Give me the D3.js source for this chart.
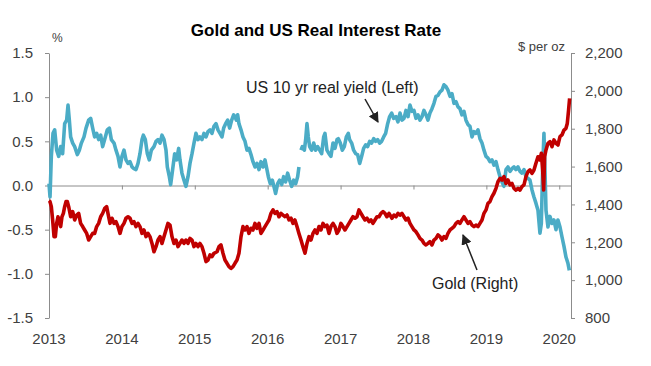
<!DOCTYPE html>
<html><head><meta charset="utf-8">
<script src="https://cdn.jsdelivr.net/npm/d3@7"></script>
<style>
body{margin:0;background:#fff}
text{font-family:"Liberation Sans",Arial,sans-serif}
</style>
</head><body>
<svg id="c" width="651" height="366"></svg>
<script>
// ---- data ----
const yearTicks = [2013,2014,2015,2016,2017,2018,2019,2020];
const yieldTicks = [-1.5,-1.0,-0.5,0.0,0.5,1.0,1.5];
const goldTicks = [800,1000,1200,1400,1600,1800,2000,2200];

// US 10 yr real yield, % (decimal year, value); null = data gap
const realYield = [[2013.000,0.02],[2013.014,-0.13],[2013.023,0.10],[2013.032,0.33],[2013.055,0.59],[2013.078,0.63],[2013.105,0.40],[2013.133,0.33],[2013.160,0.44],[2013.187,0.36],[2013.215,0.70],[2013.242,0.74],[2013.261,0.91],[2013.279,0.74],[2013.297,0.55],[2013.325,0.48],[2013.352,0.44],[2013.389,0.35],[2013.416,0.40],[2013.444,0.48],[2013.480,0.55],[2013.508,0.65],[2013.544,0.74],[2013.572,0.76],[2013.599,0.65],[2013.626,0.55],[2013.654,0.59],[2013.681,0.52],[2013.709,0.57],[2013.736,0.44],[2013.773,0.55],[2013.800,0.63],[2013.828,0.65],[2013.855,0.52],[2013.892,0.48],[2013.919,0.40],[2013.947,0.33],[2013.974,0.21],[2014.001,0.33],[2014.029,0.40],[2014.056,0.29],[2014.084,0.25],[2014.111,0.27],[2014.139,0.21],[2014.166,0.19],[2014.193,0.18],[2014.221,0.25],[2014.248,0.36],[2014.276,0.52],[2014.294,0.57],[2014.321,0.52],[2014.349,0.36],[2014.376,0.29],[2014.404,0.40],[2014.440,0.44],[2014.468,0.50],[2014.495,0.52],[2014.523,0.48],[2014.550,0.57],[2014.578,0.52],[2014.605,0.40],[2014.623,0.21],[2014.651,0.10],[2014.669,0.01],[2014.696,0.18],[2014.724,0.36],[2014.751,0.29],[2014.779,0.42],[2014.797,0.29],[2014.824,0.14],[2014.852,0.06],[2014.879,-0.01],[2014.907,0.10],[2014.934,0.25],[2014.962,0.36],[2014.989,0.48],[2015.016,0.59],[2015.044,0.52],[2015.071,0.55],[2015.099,0.52],[2015.126,0.59],[2015.154,0.55],[2015.181,0.61],[2015.209,0.63],[2015.236,0.59],[2015.263,0.67],[2015.291,0.70],[2015.318,0.63],[2015.346,0.59],[2015.373,0.55],
[2015.396,0.65],[2015.423,0.70],[2015.451,0.74],[2015.478,0.65],[2015.506,0.74],[2015.533,0.80],[2015.551,0.78],[2015.570,0.74],[2015.588,0.80],[2015.606,0.70],[2015.634,0.63],[2015.661,0.55],[2015.689,0.50],[2015.716,0.40],[2015.743,0.42],[2015.771,0.35],[2015.798,0.27],[2015.826,0.21],[2015.853,0.25],[2015.881,0.18],[2015.908,0.27],[2015.936,0.21],[2015.963,0.29],[2015.990,0.18],[2016.009,0.10],[2016.036,0.02],[2016.064,0.06],[2016.091,-0.03],[2016.109,-0.09],[2016.137,0.02],[2016.164,0.06],[2016.192,0.01],[2016.219,0.10],[2016.246,0.04],[2016.274,0.14],[2016.301,0.06],[2016.329,-0.01],[2016.356,0.06],[2016.384,0.02],[2016.411,0.10],[2016.429,0.21],[2016.443,null],[2016.457,0.40],[2016.475,0.44],[2016.503,0.40],[2016.521,0.52],[2016.539,0.70],[2016.557,0.55],[2016.576,0.44],[2016.603,0.40],[2016.631,0.48],[2016.658,0.40],[2016.685,0.44],[2016.713,0.40],[2016.740,0.36],[2016.768,0.55],[2016.786,0.59],[2016.813,0.40],[2016.841,0.36],[2016.868,0.33],[2016.896,0.48],[2016.923,0.42],[2016.951,0.52],[2016.969,0.53],[2016.996,0.48],[2017.024,0.40],[2017.051,0.44],[2017.079,0.55],[2017.106,0.59],[2017.124,0.52],[2017.152,0.48],[2017.179,0.40],[2017.207,0.36],[2017.234,0.35],[2017.262,0.25],[2017.289,0.33],[2017.316,0.42],[2017.344,0.46],[2017.371,0.44],[2017.399,0.50],[2017.426,0.48],[2017.454,0.53],[2017.481,0.50],[2017.509,0.52],[2017.536,0.48],[2017.563,0.50],[2017.591,0.55],[2017.618,0.59],[2017.646,0.70],[2017.673,0.78],[2017.701,0.82],[2017.728,0.76],
[2017.760,0.78],[2017.787,0.72],[2017.815,0.82],[2017.842,0.74],[2017.870,0.76],[2017.897,0.85],[2017.925,0.78],[2017.952,0.91],[2017.979,0.84],[2018.007,0.85],[2018.034,0.76],[2018.062,0.80],[2018.089,0.74],[2018.117,0.78],[2018.144,0.85],[2018.172,0.80],[2018.199,0.74],[2018.226,0.82],[2018.254,0.87],[2018.281,0.93],[2018.309,1.01],[2018.336,1.02],[2018.364,1.06],[2018.391,1.08],[2018.418,1.14],[2018.446,1.12],[2018.473,1.08],[2018.501,1.01],[2018.528,1.04],[2018.556,0.93],[2018.583,0.95],[2018.611,0.89],[2018.638,0.87],[2018.665,0.80],[2018.693,0.84],[2018.720,0.74],[2018.748,0.69],[2018.775,0.67],[2018.803,0.55],[2018.830,0.61],[2018.857,0.59],[2018.885,0.63],[2018.912,0.53],[2018.940,0.48],[2018.967,0.40],[2018.995,0.33],[2019.022,0.31],[2019.049,0.27],[2019.077,0.29],[2019.104,0.23],[2019.132,0.27],[2019.159,0.18],[2019.187,0.10],[2019.214,0.04],[2019.241,-0.01],[2019.269,0.18],[2019.296,0.21],[2019.324,0.16],[2019.351,0.19],[2019.379,0.21],[2019.406,0.18],[2019.434,0.21],[2019.461,0.16],[2019.488,0.14],[2019.516,0.18],[2019.543,0.10],[2019.571,0.08],[2019.598,0.06],[2019.626,-0.05],[2019.653,-0.13],[2019.680,-0.20],[2019.708,-0.28],[2019.735,-0.54],[2019.754,-0.43],[2019.772,0.18],[2019.790,0.59],[2019.804,0.18],[2019.818,-0.28],[2019.845,-0.47],[2019.873,-0.35],[2019.900,-0.43],[2019.927,-0.39],[2019.955,-0.50],[2019.982,-0.39],[2020.010,-0.47],[2020.037,-0.58],[2020.065,-0.69],[2020.092,-0.81],[2020.119,-0.88],[2020.138,-0.96]];

// Gold, $ per oz (decimal year, value)
const gold = [[2013.000,1420],[2013.014,1415],[2013.032,1388],[2013.050,1318],[2013.069,1230],[2013.087,1230],[2013.105,1300],[2013.123,1335],[2013.142,1309],[2013.160,1283],[2013.178,1335],[2013.197,1353],[2013.215,1388],[2013.233,1415],[2013.251,1415],[2013.270,1388],[2013.297,1335],[2013.325,1362],[2013.352,1318],[2013.380,1344],[2013.407,1353],[2013.434,1300],[2013.462,1283],[2013.489,1265],[2013.517,1247],[2013.544,1212],[2013.572,1230],[2013.599,1247],[2013.626,1247],[2013.654,1283],[2013.681,1300],[2013.709,1335],[2013.736,1353],[2013.764,1379],[2013.791,1388],[2013.809,1353],[2013.837,1300],[2013.864,1327],[2013.892,1300],[2013.919,1309],[2013.947,1283],[2013.974,1247],[2014.001,1283],[2014.029,1300],[2014.056,1327],[2014.084,1335],[2014.111,1327],[2014.139,1300],[2014.166,1309],[2014.193,1283],[2014.221,1300],[2014.248,1283],[2014.276,1247],[2014.303,1265],[2014.331,1230],[2014.358,1247],[2014.385,1230],[2014.413,1194],[2014.440,1150],[2014.468,1177],[2014.495,1212],[2014.523,1230],[2014.550,1194],[2014.578,1230],[2014.605,1265],[2014.632,1300],[2014.660,1291],[2014.687,1230],[2014.715,1194],[2014.742,1212],[2014.770,1177],[2014.797,1194],[2014.824,1212],[2014.852,1194],[2014.879,1212],[2014.907,1194],[2014.934,1221],[2014.962,1212],[2014.989,1177],[2015.016,1194],[2015.044,1177],[2015.071,1194],[2015.099,1177],[2015.126,1142],[2015.154,1098],[2015.181,1106],[2015.209,1133],[2015.236,1124],[2015.263,1142],
[2015.305,1150],[2015.332,1177],[2015.359,1186],[2015.387,1142],[2015.414,1106],[2015.442,1089],[2015.469,1071],[2015.497,1062],[2015.524,1071],[2015.551,1089],[2015.579,1106],[2015.606,1142],[2015.634,1230],[2015.661,1283],[2015.689,1265],[2015.716,1283],[2015.743,1247],[2015.771,1274],[2015.798,1265],[2015.826,1300],[2015.853,1274],[2015.881,1300],[2015.908,1247],[2015.936,1265],[2015.963,1283],[2015.990,1300],[2016.018,1318],[2016.045,1353],[2016.073,1371],[2016.100,1353],[2016.128,1362],[2016.155,1335],[2016.182,1353],[2016.210,1344],[2016.237,1335],[2016.265,1344],[2016.292,1318],[2016.320,1327],[2016.347,1300],[2016.374,1318],[2016.402,1283],[2016.429,1247],[2016.457,1212],[2016.484,1177],[2016.512,1142],[2016.539,1194],[2016.567,1230],[2016.594,1212],[2016.621,1247],[2016.649,1265],[2016.676,1247],[2016.704,1283],[2016.731,1265],[2016.759,1300],[2016.786,1283],[2016.813,1291],[2016.841,1247],[2016.868,1283],[2016.896,1300],[2016.923,1283],[2016.951,1247],[2016.978,1265],[2017.005,1300],[2017.033,1283],[2017.060,1265],[2017.088,1283],[2017.115,1300],[2017.143,1318],[2017.170,1335],[2017.198,1327],[2017.225,1335],[2017.252,1371],[2017.280,1353],[2017.307,1335],[2017.335,1318],[2017.362,1327],[2017.390,1309],[2017.417,1318],[2017.444,1300],[2017.472,1318],[2017.499,1335],[2017.527,1335],[2017.554,1353],[2017.582,1362],[2017.609,1353],[2017.636,1335],[2017.664,1353],
[2017.705,1327],[2017.733,1344],[2017.760,1335],[2017.787,1353],[2017.815,1344],[2017.842,1353],[2017.870,1335],[2017.897,1318],[2017.925,1327],[2017.952,1300],[2017.979,1283],[2018.007,1265],[2018.034,1256],[2018.062,1239],[2018.089,1221],[2018.117,1212],[2018.144,1194],[2018.172,1186],[2018.199,1194],[2018.226,1203],[2018.254,1186],[2018.281,1212],[2018.309,1221],[2018.336,1239],[2018.364,1230],[2018.391,1212],[2018.418,1230],[2018.446,1221],[2018.473,1247],[2018.501,1265],[2018.528,1274],[2018.556,1283],[2018.583,1300],[2018.611,1309],[2018.638,1300],[2018.665,1318],[2018.693,1335],[2018.720,1318],[2018.748,1300],[2018.775,1309],[2018.803,1291],[2018.830,1283],[2018.857,1291],[2018.885,1283],[2018.912,1300],[2018.940,1318],[2018.967,1353],[2018.995,1371],[2019.022,1406],[2019.049,1415],[2019.077,1441],[2019.104,1459],[2019.132,1485],[2019.159,1520],[2019.187,1538],[2019.214,1529],[2019.241,1547],[2019.269,1511],[2019.296,1529],[2019.324,1503],[2019.351,1511],[2019.379,1485],[2019.406,1476],[2019.434,1485],[2019.461,1476],[2019.488,1494],[2019.516,1503],[2019.543,1547],[2019.571,1573],[2019.598,1582],[2019.626,1564],[2019.653,1582],[2019.680,1617],[2019.708,1652],[2019.735,1635],[2019.754,1670],[2019.772,1582],[2019.786,1476],[2019.799,1652],[2019.818,1688],[2019.845,1723],[2019.873,1732],[2019.900,1705],[2019.927,1741],[2019.955,1723],[2019.982,1714],[2020.010,1758],[2020.037,1767],[2020.065,1793],[2020.092,1802],[2020.110,1828],[2020.128,1899],[2020.142,1960]];

const titleText = "Gold and US Real Interest Rate";
const yieldLabel = "US 10 yr real yield (Left)";
const goldLabel = "Gold (Right)";

// ---- chart ----
const svg = d3.select("#c");
const axisColor = "#8c8c8c", textColor = "#404040";
const x = d3.scaleLinear().domain([2013, 2020.161]).range([49, 571]);
const yL = d3.scaleLinear().domain([-1.5, 1.5]).range([318, 53]);
const yR = d3.scaleLinear().domain([800, 2200]).range([318, 53]);

function styleAxis(g){
  g.select(".domain").attr("stroke", axisColor);
  g.selectAll(".tick line").attr("stroke", axisColor);
  g.selectAll(".tick text").attr("fill", textColor).style("font-size","15px")
   .style("font-family",'"Liberation Sans",Arial,sans-serif');
}

svg.append("g").attr("transform","translate(49,0)")
  .call(d3.axisLeft(yL).tickValues(yieldTicks).tickSize(4).tickSizeOuter(0).tickPadding(12)
        .tickFormat(d => d.toFixed(1)))
  .call(styleAxis);

svg.append("g").attr("transform","translate(571,0)")
  .call(d3.axisRight(yR).tickValues(goldTicks).tickSize(4).tickSizeOuter(0).tickPadding(10)
        .tickFormat(d3.format(",")))
  .call(styleAxis);

svg.append("g").attr("transform",`translate(0,${yL(0)})`)
  .call(d3.axisBottom(x).tickValues(yearTicks).tickSize(4).tickSizeOuter(0).tickFormat(""))
  .call(styleAxis);

svg.append("g").selectAll("text").data(yearTicks).join("text")
  .attr("x", d => x(d)).attr("y", 344).attr("text-anchor","middle")
  .attr("fill", textColor).style("font-size","15px").text(d => d);

const lineL = d3.line().defined(d => d[1] !== null).x(d => x(d[0])).y(d => yL(d[1]));
const lineR = d3.line().x(d => x(d[0])).y(d => yR(d[1]));

svg.append("path").datum(realYield).attr("d", lineL)
  .attr("fill","none").attr("stroke","#4bacc6").attr("stroke-width",3.6)
  .attr("stroke-linejoin","round");
svg.append("path").datum(gold).attr("d", lineR)
  .attr("fill","none").attr("stroke","#c00000").attr("stroke-width",3.6)
  .attr("stroke-linejoin","round");

// title & unit labels
svg.append("text").attr("x",316).attr("y",36).attr("text-anchor","middle")
  .style("font-size","17px").style("font-weight","bold").attr("fill","#000").text(titleText);
svg.append("text").attr("x",52).attr("y",42).style("font-size","12px").attr("fill",textColor).text("%");
svg.append("text").attr("x",565).attr("y",51).attr("text-anchor","end")
  .style("font-size","13px").attr("fill",textColor).text("$ per oz");

// annotations
const defs = svg.append("defs");
defs.append("marker").attr("id","ah").attr("viewBox","0 0 10 10").attr("refX",9).attr("refY",5)
  .attr("markerWidth",7).attr("markerHeight",7).attr("orient","auto")
  .append("path").attr("d","M0,0L10,5L0,10z").attr("fill","#222");

svg.append("text").attr("x",246).attr("y",93).style("font-size","16px").attr("fill","#222").text(yieldLabel);
svg.append("line").attr("x1",365).attr("y1",99).attr("x2",378).attr("y2",122)
  .attr("stroke","#222").attr("stroke-width",1.5).attr("marker-end","url(#ah)");

svg.append("text").attr("x",432).attr("y",289).style("font-size","16px").attr("fill","#222").text(goldLabel);
svg.append("line").attr("x1",477).attr("y1",270).attr("x2",463).attr("y2",235)
  .attr("stroke","#222").attr("stroke-width",1.5).attr("marker-end","url(#ah)");
</script>
</body></html>
